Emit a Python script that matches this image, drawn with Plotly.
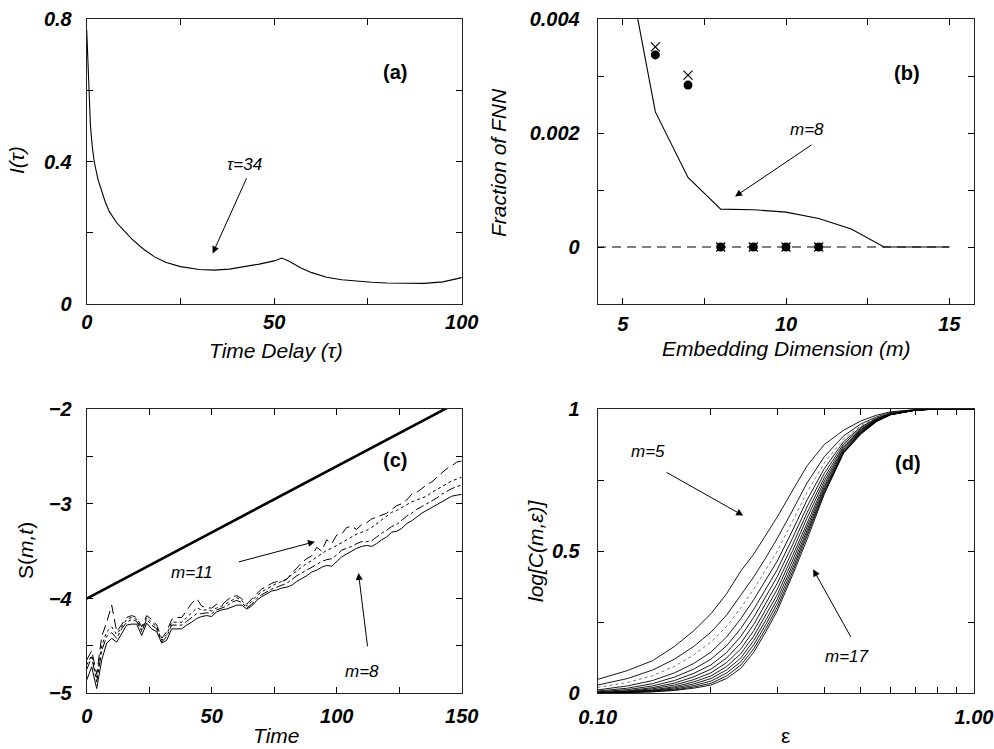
import math
import plotly.graph_objects as go

# ---------------- (a) mutual information ----------------
tau = [0, 0.3, 0.6, 1, 1.5, 2, 3, 4, 5, 6, 8, 10, 12, 15, 18, 21, 25, 30, 34, 38,
       42, 46, 50, 52, 54, 57, 60, 64, 68, 72, 76, 80, 85, 90, 95, 100]
mutual_info = [0.77, 0.68, 0.59, 0.50, 0.44, 0.40, 0.35, 0.315, 0.285, 0.26, 0.228, 0.205,
               0.183, 0.155, 0.133, 0.117, 0.105, 0.097, 0.095, 0.098, 0.104, 0.112, 0.121,
               0.129, 0.12, 0.102, 0.088, 0.075, 0.068, 0.064, 0.061, 0.059, 0.058, 0.058,
               0.062, 0.074]

# ---------------- (b) false nearest neighbours ----------------
fnn_m = [5, 6, 7, 8, 9, 10, 11, 12, 13, 14, 15]
fnn_frac = [0.0054, 0.00237, 0.00122, 0.000665, 0.000653, 0.000612, 0.0005, 0.000315, 0.0, 0.0, 0.0]
zero_m = [1, 15]
zero_frac = [0.0, 0.0]
dot_m = [6, 7, 8, 9, 10, 11]
dot_frac = [0.00337, 0.00284, 0.0, 0.0, 0.0, 0.0]
cross_frac = [0.00351, 0.003015, 0.0, 0.0, 0.0, 0.0]

# ---------------- (c) stretching S(m,t) ----------------
time_c = list(range(0, 151, 2))
s_m8 = [-4.86, -4.72, -4.95, -4.65, -4.47, -4.42, -4.46, -4.37, -4.28, -4.27, -4.27, -4.39, -4.26,
        -4.32, -4.35, -4.47, -4.44, -4.32, -4.32, -4.32, -4.28, -4.25, -4.21, -4.19, -4.18, -4.19,
        -4.14, -4.12, -4.11, -4.09, -4.07, -4.07, -4.11, -4.08, -4.02, -3.98, -3.95, -3.92, -3.91,
        -3.89, -3.88, -3.86, -3.82, -3.79, -3.76, -3.72, -3.70, -3.67, -3.65, -3.66, -3.61, -3.56,
        -3.53, -3.50, -3.47, -3.45, -3.44, -3.45, -3.42, -3.38, -3.35, -3.30, -3.29, -3.26, -3.21,
        -3.18, -3.14, -3.10, -3.07, -3.04, -3.01, -2.98, -2.95, -2.92, -2.91, -2.90]
s_m9 = [-4.75, -4.62, -4.88, -4.55, -4.40, -4.36, -4.42, -4.32, -4.25, -4.22, -4.24, -4.35, -4.22,
        -4.28, -4.32, -4.46, -4.40, -4.28, -4.28, -4.28, -4.24, -4.20, -4.16, -4.16, -4.15, -4.16,
        -4.12, -4.10, -4.08, -4.04, -4.02, -4.04, -4.10, -4.06, -4.00, -3.96, -3.93, -3.90, -3.88,
        -3.86, -3.84, -3.80, -3.76, -3.73, -3.70, -3.67, -3.64, -3.61, -3.59, -3.58, -3.54, -3.49,
        -3.47, -3.45, -3.42, -3.40, -3.40, -3.39, -3.35, -3.31, -3.28, -3.24, -3.22, -3.18, -3.13,
        -3.10, -3.06, -3.03, -3.00, -2.97, -2.94, -2.90, -2.87, -2.84, -2.82, -2.80]
s_m10 = [-4.70, -4.60, -4.85, -4.50, -4.35, -4.30, -4.38, -4.30, -4.22, -4.20, -4.22, -4.33, -4.20,
         -4.25, -4.30, -4.44, -4.38, -4.25, -4.25, -4.25, -4.20, -4.15, -4.10, -4.12, -4.12, -4.13,
         -4.10, -4.08, -4.05, -4.02, -3.99, -4.02, -4.08, -4.03, -3.97, -3.93, -3.90, -3.87, -3.84,
         -3.82, -3.79, -3.75, -3.71, -3.67, -3.63, -3.60, -3.56, -3.52, -3.49, -3.47, -3.44, -3.41,
         -3.38, -3.35, -3.32, -3.30, -3.28, -3.25, -3.21, -3.18, -3.14, -3.09, -3.07, -3.04, -3.01,
         -2.98, -2.96, -2.94, -2.92, -2.88, -2.85, -2.82, -2.79, -2.76, -2.74, -2.72]
s_m11 = [-4.65, -4.55, -4.80, -4.40, -4.25, -4.07, -4.35, -4.28, -4.20, -4.18, -4.20, -4.30, -4.18,
         -4.22, -4.28, -4.42, -4.35, -4.22, -4.20, -4.20, -4.12, -4.05, -4.00, -4.08, -4.10, -4.10,
         -4.06, -4.07, -4.02, -3.98, -3.97, -4.00, -4.06, -4.00, -3.95, -3.90, -3.87, -3.84, -3.82,
         -3.82, -3.80, -3.73, -3.68, -3.62, -3.58, -3.55, -3.46, -3.50, -3.38, -3.42, -3.33, -3.32,
         -3.25, -3.24, -3.27, -3.22, -3.20, -3.16, -3.14, -3.12, -3.10, -3.06, -3.02, -3.00, -2.96,
         -2.90, -2.88, -2.84, -2.80, -2.77, -2.72, -2.68, -2.63, -2.60, -2.56, -2.55]
ref_time = [0, 150]
ref_slope_line = [-4.0, -1.907]

# ---------------- (d) correlation sums ----------------
eps = [0.10, 0.12, 0.14, 0.16, 0.18, 0.20, 0.22, 0.24, 0.26, 0.28, 0.30, 0.33, 0.36, 0.40,
       0.45, 0.50, 0.55, 0.60, 0.70, 0.80, 1.00]
logC_m5 = [0.049, 0.080, 0.115, 0.165, 0.22, 0.28, 0.35, 0.43, 0.49, 0.555, 0.62, 0.715, 0.80, 0.875, 0.925, 0.958, 0.978, 0.99, 0.998, 1.0, 1.0]
logC_m6 = [0.029, 0.052, 0.082, 0.120, 0.165, 0.215, 0.275, 0.345, 0.41, 0.478, 0.545, 0.645, 0.74, 0.832, 0.905, 0.947, 0.972, 0.987, 0.998, 1.0, 1.0]
logC_m7 = [0.021, 0.038, 0.062, 0.095, 0.135, 0.18, 0.235, 0.30, 0.367, 0.436, 0.50, 0.607, 0.707, 0.81, 0.894, 0.941, 0.969, 0.985, 0.997, 1.0, 1.0]
logC_m8 = [0.012, 0.026, 0.045, 0.072, 0.105, 0.145, 0.198, 0.262, 0.33, 0.40, 0.465, 0.575, 0.68, 0.79, 0.885, 0.936, 0.967, 0.984, 0.997, 1.0, 1.0]
logC_m9 = [0.008, 0.018, 0.034, 0.057, 0.085, 0.120, 0.167, 0.228, 0.296, 0.368, 0.435, 0.548, 0.656, 0.773, 0.877, 0.932, 0.965, 0.983, 0.997, 1.0, 1.0]
logC_m10 = [0.005, 0.013, 0.026, 0.045, 0.070, 0.100, 0.143, 0.2, 0.268, 0.34, 0.41, 0.524, 0.635, 0.758, 0.87, 0.928, 0.963, 0.982, 0.997, 1.0, 1.0]
logC_m11 = [0.003, 0.009, 0.020, 0.036, 0.058, 0.085, 0.124, 0.176, 0.243, 0.315, 0.387, 0.503, 0.617, 0.746, 0.864, 0.925, 0.962, 0.982, 0.996, 1.0, 1.0]
logC_m12 = [0.002, 0.007, 0.016, 0.029, 0.048, 0.072, 0.108, 0.156, 0.221, 0.294, 0.366, 0.485, 0.601, 0.735, 0.859, 0.922, 0.96, 0.981, 0.996, 1.0, 1.0]
logC_m13 = [0.001, 0.005, 0.012, 0.023, 0.040, 0.061, 0.094, 0.139, 0.202, 0.275, 0.347, 0.469, 0.587, 0.726, 0.855, 0.919, 0.959, 0.981, 0.996, 1.0, 1.0]
logC_m14 = [0.0, 0.004, 0.010, 0.019, 0.033, 0.052, 0.082, 0.124, 0.186, 0.258, 0.331, 0.454, 0.574, 0.718, 0.851, 0.917, 0.958, 0.98, 0.996, 1.0, 1.0]
logC_m15 = [0.0, 0.003, 0.008, 0.015, 0.027, 0.043, 0.071, 0.111, 0.171, 0.243, 0.316, 0.441, 0.562, 0.711, 0.848, 0.915, 0.957, 0.98, 0.996, 1.0, 1.0]
logC_m16 = [0.0, 0.002, 0.006, 0.012, 0.022, 0.035, 0.061, 0.099, 0.157, 0.229, 0.302, 0.429, 0.551, 0.705, 0.846, 0.913, 0.956, 0.98, 0.996, 1.0, 1.0]
logC_m17 = [0.0, 0.002, 0.005, 0.010, 0.018, 0.029, 0.052, 0.088, 0.145, 0.217, 0.29, 0.418, 0.541, 0.70, 0.844, 0.911, 0.955, 0.98, 0.996, 1.0, 1.0]

FONT = "Liberation Sans, Arial, Helvetica, sans-serif"
BLACK = "#000000"

fig = go.Figure()

# (a)
fig.add_trace(go.Scatter(x=tau, y=mutual_info, mode="lines", line=dict(color=BLACK, width=1.1),
                         xaxis="x", yaxis="y", showlegend=False))
# (b)
fig.add_trace(go.Scatter(x=zero_m, y=zero_frac, mode="lines",
                         line=dict(color=BLACK, width=1, dash="9px,6px"),
                         xaxis="x2", yaxis="y2", showlegend=False))
fig.add_trace(go.Scatter(x=fnn_m, y=fnn_frac, mode="lines", line=dict(color=BLACK, width=1.1),
                         xaxis="x2", yaxis="y2", showlegend=False))
fig.add_trace(go.Scatter(x=dot_m, y=dot_frac, mode="markers",
                         marker=dict(symbol="circle", size=9, color=BLACK),
                         xaxis="x2", yaxis="y2", showlegend=False))
fig.add_trace(go.Scatter(x=dot_m, y=cross_frac, mode="markers",
                         marker=dict(symbol="x-thin-open", size=9, color=BLACK,
                                     line=dict(color=BLACK, width=1.2)),
                         xaxis="x2", yaxis="y2", showlegend=False))
# (c)
fig.add_trace(go.Scatter(x=ref_time, y=ref_slope_line, mode="lines", line=dict(color=BLACK, width=2.6),
                         xaxis="x3", yaxis="y3", showlegend=False))
for series, dash in [(s_m8, "solid"), (s_m9, "dashdot"), (s_m10, "dot"), (s_m11, "10px,5px")]:
    fig.add_trace(go.Scatter(x=time_c, y=series, mode="lines",
                             line=dict(color=BLACK, width=1, dash=dash),
                             xaxis="x3", yaxis="y3", showlegend=False))
# (d)
curves_d = [logC_m5, logC_m6, logC_m7, logC_m8, logC_m9, logC_m10, logC_m11, logC_m12,
            logC_m13, logC_m14, logC_m15, logC_m16, logC_m17]
for i, series in enumerate(curves_d):
    if i == 2:
        ln = dict(color="#777777", width=1, dash="dot")
    else:
        ln = dict(color=BLACK, width=0.9)
    fig.add_trace(go.Scatter(x=eps, y=series, mode="lines", line=ln,
                             xaxis="x4", yaxis="y4", showlegend=False))

W, H = 994, 749


def px_x(p):
    return p / W


def px_y(p):
    return 1 - p / H


dom_x_left = [px_x(86.7), px_x(461.7)]
dom_x_right = [px_x(597.7), px_x(974)]
dom_y_top = [px_y(304), px_y(19)]
dom_y_bot = [px_y(693.3), px_y(409)]

tickfont = dict(family=FONT, size=20, color=BLACK, weight="bold", style="italic")
common = dict(showgrid=False, zeroline=False, showline=True, linecolor="#222222", linewidth=1,
              mirror="allticks", ticks="inside", ticklen=6, tickwidth=1, tickcolor=BLACK,
              tickfont=tickfont, tickmode="array", automargin=False)

fig.update_layout(
    template="none",
    width=W, height=H, margin=dict(l=0, r=0, t=0, b=0, autoexpand=False),
    paper_bgcolor="white", plot_bgcolor="white",
    xaxis=dict(domain=dom_x_left, anchor="y", range=[0, 100],
               tickvals=[0, 25, 50, 75, 100], ticktext=["0", "", "50", "", "100"],
               ticklabelstandoff=0, **common),
    yaxis=dict(domain=dom_y_top, anchor="x", range=[0, 0.8],
               tickvals=[0, 0.2, 0.4, 0.6, 0.8], ticktext=["0", "", "0.4", "", "0.8"],
               ticklabelstandoff=10, **common),
    xaxis2=dict(domain=dom_x_right, anchor="y2", range=[4.235, 15.756],
                tickvals=[5, 7.5, 10, 12.5, 15], ticktext=["5", "", "10", "", "15"],
                ticklabelstandoff=2, **common),
    yaxis2=dict(domain=dom_y_top, anchor="x2", range=[-0.001, 0.004],
                tickvals=[-0.001, 0, 0.001, 0.002, 0.003, 0.004],
                ticktext=["", "0", "", "0.002", "", "0.004"],
                ticklabelstandoff=13, **common),
    xaxis3=dict(domain=dom_x_left, anchor="y3", range=[0, 150],
                tickvals=[0, 25, 50, 75, 100, 125, 150],
                ticktext=["0", "", "50", "", "100", "", "150"],
                ticklabelstandoff=5, **common),
    yaxis3=dict(domain=dom_y_bot, anchor="x3", range=[-5, -2],
                tickvals=[-5, -4.5, -4, -3.5, -3, -2.5, -2],
                ticktext=["\u22125", "", "\u22124", "", "\u22123", "", "\u22122"],
                ticklabelstandoff=10, **common),
    xaxis4=dict(domain=dom_x_right, anchor="y4", type="log", range=[-1, 0],
                tickvals=[0.1, 0.2, 0.3, 0.4, 0.5, 0.6, 0.7, 0.8, 0.9, 1.0],
                ticktext=["0.10", "", "", "", "", "", "", "", "", "1.00"],
                ticklabelstandoff=6, **common),
    yaxis4=dict(domain=dom_y_bot, anchor="x4", range=[0, 1],
                tickvals=[0, 0.25, 0.5, 0.75, 1.0], ticktext=["0", "", "0.5", "", "1"],
                ticklabelstandoff=13, **common),
)

ann = []
title_font = dict(family=FONT, size=21, color=BLACK, style="italic")
upright_font = dict(family=FONT, size=21, color=BLACK)
label_font = dict(family=FONT, size=20, color=BLACK, weight="bold")
note_font = dict(family=FONT, size=17, color=BLACK, style="italic")


def paper_text(text, x, y, font, angle=0):
    ann.append(dict(text=text, x=px_x(x), y=px_y(y), xref="paper", yref="paper",
                    showarrow=False, font=font, textangle=angle,
                    xanchor="center", yanchor="middle"))


# axis titles
paper_text("Time Delay (\u03c4)", 276, 350, title_font)
paper_text("I(\u03c4)", 16, 160, title_font, -90)
paper_text("Embedding Dimension (m)", 786, 348, title_font)
paper_text("Fraction of FNN", 498, 162, title_font, -90)
paper_text("Time", 276, 735, title_font)
paper_text("S(<i>m,t</i>)", 25, 551, upright_font, -90)
paper_text("\u03b5", 785, 735, upright_font)
paper_text("log[C(m,\u03b5)]", 535, 551, title_font, -90)


def data_text(text, x, y, xr, yr, font):
    ann.append(dict(text=text, x=x, y=y, xref=xr, yref=yr, showarrow=False, font=font,
                    xanchor="center", yanchor="middle"))


def arrow(x, y, ax, ay, xr, yr):
    ann.append(dict(text="", x=x, y=y, ax=ax, ay=ay, xref=xr, yref=yr, axref=xr, ayref=yr,
                    showarrow=True, arrowhead=2, arrowsize=1.4, arrowwidth=1,
                    arrowcolor=BLACK, standoff=0, startstandoff=0))


# (a)
data_text("(a)", 82.2, 0.652, "x", "y", label_font)
data_text("\u03c4=34", 42.2, 0.392, "x", "y", note_font)
arrow(33.6, 0.142, 42.8, 0.357, "x", "y")
# (b)
data_text("(b)", 13.69, 0.00305, "x2", "y2", label_font)
data_text("m=8", 10.65, 0.00207, "x2", "y2", note_font)
arrow(8.44, 0.000885, 10.83, 0.00181, "x2", "y2")
# (c)
data_text("(c)", 123.3, -2.54, "x3", "y3", label_font)
data_text("m=11", 42, -3.727, "x3", "y3", note_font)
arrow(91.3, -3.40, 60.2, -3.618, "x3", "y3")
data_text("m=8", 110, -4.77, "x3", "y3", note_font)
arrow(108.7, -3.73, 112.4, -4.52, "x3", "y3")
# (d)
data_text("(d)", math.log10(0.6695), 0.809, "x4", "y4", label_font)
data_text("m=5", math.log10(0.1363), 0.85, "x4", "y4", note_font)
arrow(math.log10(0.2436), 0.625, math.log10(0.151), 0.78, "x4", "y4")
data_text("m=17", math.log10(0.459), 0.129, "x4", "y4", note_font)
arrow(math.log10(0.3737), 0.436, math.log10(0.473), 0.193, "x4", "y4")

fig.update_layout(annotations=ann)
fig.write_html("out.html", config={"displayModeBar": False},
               post_script="document.body.style.margin='0px';document.body.style.overflow='hidden';")
